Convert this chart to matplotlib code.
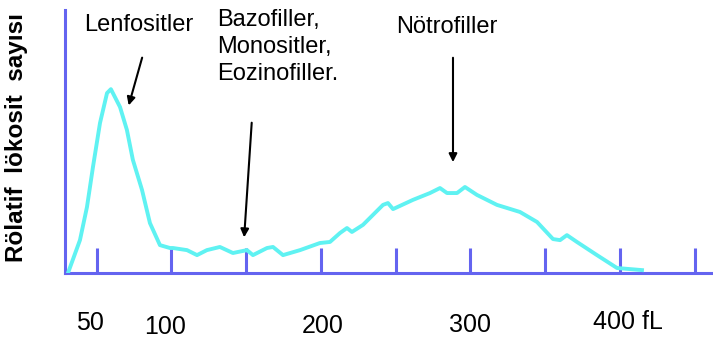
import matplotlib
matplotlib.use("Agg")
import matplotlib.pyplot as plt

plt.rcParams['font.family'] = ['Liberation Sans', 'DejaVu Sans']

# Histogram of leukocyte volume (fL) vs relative count
volume = [30.8, 38.8, 43.5, 47.5, 52.2, 56.9, 59.5, 65.6, 70.2, 74.2, 80.3, 85.6,
          92.3, 99.0, 101.0, 110.4, 117.1, 123.7, 132.4, 141.1, 150.5, 154.5,
          163.9, 167.9, 174.6, 186.0, 199.3, 206.0, 212.7, 217.4, 220.7, 228.1,
          241.5, 244.8, 248.2, 261.5, 272.9, 279.6, 284.3, 291.0, 296.3, 304.3,
          317.7, 333.1, 344.5, 355.2, 359.9, 364.5, 371.2, 384.6, 398.0, 414.7]
count = [0.0, 12.5, 25.1, 40.3, 57.0, 68.4, 69.9, 63.1, 54.4, 43.0, 31.6, 19.0,
         10.6, 9.5, 9.5, 8.7, 6.8, 8.7, 9.9, 7.6, 8.7, 6.8,
         9.5, 9.9, 6.8, 8.7, 11.4, 11.8, 15.2, 17.1, 15.6, 18.3,
         25.9, 26.6, 24.3, 27.8, 30.4, 32.3, 30.4, 30.4, 32.7, 29.7,
         25.9, 23.2, 19.4, 12.9, 12.5, 14.4, 11.8, 6.8, 1.9, 1.1]

ticks = [50, 100, 150, 200, 250, 300, 350, 400, 450]
tick_labels = {50: "50", 100: "100", 200: "200", 300: "300", 400: "400 fL"}

axis_col = "#6464f0"
curve_col = "#5ff2f2"

fig = plt.figure(figsize=(7.13, 3.41), dpi=100)
ax = fig.add_axes([65 / 713, 68 / 341, 648 / 713, 263 / 341])

ax.plot(volume, count, color=curve_col, lw=2.8, zorder=3)

ax.set_xlim(28.8, 462.2)
ax.set_ylim(0, 100)
for s in ['top', 'right']:
    ax.spines[s].set_visible(False)
for s in ['left', 'bottom']:
    ax.spines[s].set_color(axis_col)
    ax.spines[s].set_linewidth(2.2)
ax.set_xticks(ticks)
ax.set_yticks([])
ax.tick_params(axis='x', direction='in', length=18, width=2.2, color=axis_col,
               labelbottom=False)

# x labels (staggered like the original)
label_pos = {50: (90, 323), 100: (165, 327), 200: (323, 326), 300: (470, 325), 400: (628, 322)}
for v, lab in tick_labels.items():
    px, py = label_pos[v]
    fig.text(px / 713, 1 - py / 341, lab, ha='center', va='center', fontsize=18)

fig.text(17 / 713, 1 - 262 / 341, "Rölatif  lökosit  sayısı", rotation=90,
         ha='center', va='bottom', fontsize=17.5, fontweight='bold')

# annotations
ax.text(78, 94.3, "Lenfositler", ha='center', va='center', fontsize=17)
ax.annotate("", xy=(70.9, 62.7), xytext=(80.9, 82.9),
            arrowprops=dict(arrowstyle='-|>', color='black', lw=1.5, mutation_scale=12))

ax.text(130.4, 100.5, "Bazofiller,\nMonositler,\nEozinofiller.", ha='left', va='top',
        fontsize=17, linespacing=1.3)
ax.annotate("", xy=(148.5, 12.5), xytext=(153.8, 58.2),
            arrowprops=dict(arrowstyle='-|>', color='black', lw=1.5, mutation_scale=12))

ax.text(284.5, 93.5, "Nötrofiller", ha='center', va='center', fontsize=17)
ax.annotate("", xy=(288.3, 41.1), xytext=(288.3, 82.9),
            arrowprops=dict(arrowstyle='-|>', color='black', lw=1.5, mutation_scale=12))

fig.savefig("out.png", dpi=100)
